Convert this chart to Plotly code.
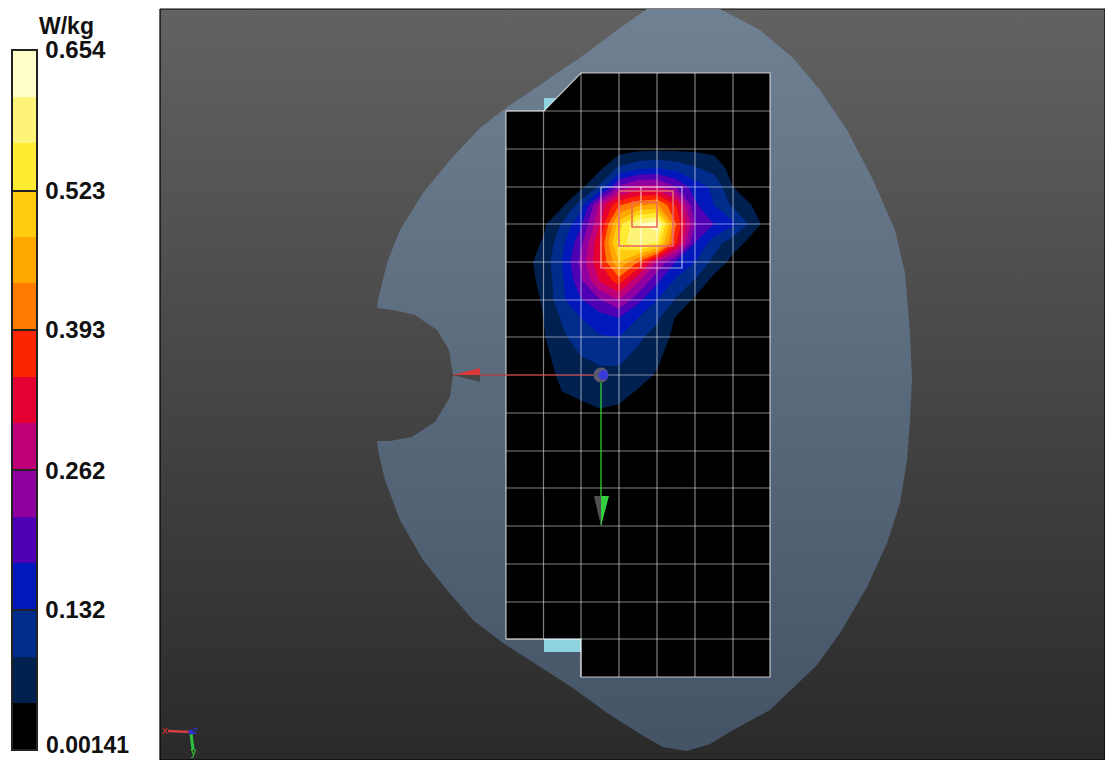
import plotly.graph_objects as go

# --- SAR scan values (W/kg) on the measurement grid ---
scan_x = [506, 543.5, 562, 581, 600, 619, 638, 657, 676, 695, 714, 733, 770]
scan_y = [111, 149, 168, 187, 205, 224, 243, 262, 281, 300, 318, 337, 375, 413, 451]
sar = [
    [.001, .001, .001, .001, .001, .001, .001, .001, .001, .001, .001, .001, .001],
    [.001, .001, .001, .004, .006, .023, .034, .036, .036, .036, .032, .008, .001],
    [.001, .001, .004, .010, .036, .097, .119, .132, .115, .093, .071, .028, .001],
    [.001, .004, .012, .034, .097, .228, .275, .275, .219, .154, .123, .045, .008],
    [.001, .014, .036, .110, .275, .389, .430, .445, .349, .184, .132, .080, .010],
    [.001, .036, .093, .167, .306, .502, .610, .640, .393, .219, .175, .141, .014],
    [.001, .049, .119, .206, .349, .545, .600, .560, .360, .175, .110, .062, .005],
    [.001, .062, .132, .232, .349, .480, .393, .262, .175, .132, .075, .032, .001],
    [.001, .056, .123, .210, .310, .371, .271, .184, .123, .084, .028, .006, .001],
    [.001, .049, .123, .171, .215, .262, .188, .132, .084, .036, .010, .003, .001],
    [.001, .045, .093, .132, .158, .175, .132, .097, .041, .010, .001, .001, .001],
    [.001, .041, .080, .110, .128, .132, .097, .071, .032, .006, .001, .001, .001],
    [.001, .019, .058, .067, .075, .075, .062, .041, .010, .001, .001, .001, .001],
    [.001, .001, .028, .034, .041, .036, .014, .001, .001, .001, .001, .001, .001],
    [.001, .001, .001, .001, .001, .001, .001, .001, .001, .001, .001, .001, .001],
]
sar_min = 0.00141
sar_max = 0.654
tick_vals = [0.132, 0.262, 0.393, 0.523, 0.654]
tick_text = ["\u200a0.132", "\u200a0.262", "\u200a0.393", "\u200a0.523", "\u200a0.654"]
min_label = "0.00141"
unit_label = "W/kg"
band_colors = ["#000000", "#002050", "#002C8C", "#0018BC", "#5000B4", "#9000A0", "#C00078", "#E40030",
               "#FA2400", "#FF7C00", "#FFA800", "#FFCC10", "#FFEC32", "#FFF47A", "#FFFFC8"]

# --- outlines ---
panel_x = [160, 1105, 1105, 160, 160]
panel_y = [9, 9, 760, 760, 9]
phantom_x = [377, 378, 387, 400, 423, 450, 480, 503, 540, 557, 577, 600, 620, 647, 720, 760, 793, 820, 847, 873, 895, 905, 910, 912,
             911, 910, 907, 900, 887, 867, 840, 817, 793, 770, 733, 710, 687, 663, 647, 610, 573, 537, 503, 473, 447, 423, 400, 385, 378,
             377, 390, 412, 435, 450, 453, 449, 437, 415, 393, 377]
phantom_y = [308, 300, 263, 230, 193, 160, 128, 110, 85, 73, 60, 43, 28, 9, 9, 30, 58, 90, 130, 180, 230, 273, 333, 380,
             400, 420, 460, 503, 543, 587, 633, 665, 688, 710, 730, 744, 751, 747, 738, 715, 688, 665, 643, 620, 590, 560, 520, 480, 450,
             441, 441, 437, 422, 397, 375, 350, 330, 315, 310, 308]
plate_x = [506, 544, 581, 770, 770, 581, 581, 506, 506]
plate_y = [111, 111, 73, 73, 677, 677, 639, 639, 111]
tab_top_x = [544, 556, 544, 544]
tab_top_y = [98, 98, 111, 98]
tab_bottom_x = [544, 581, 581, 544, 544]
tab_bottom_y = [639, 639, 652, 652, 639]

grid_col_x = [543.5, 581, 619, 657, 695, 733]
grid_col_top = [111, 73, 73, 73, 73, 73]
grid_col_bottom = [639, 677, 677, 677, 677, 677]
grid_row_y = [149, 187, 224, 262, 300, 337, 375, 413, 451, 488, 526, 564, 602, 639, 111]

zoom_boxes = [([601, 682, 682, 601, 601], [187, 187, 268, 268, 187], "rgba(255,255,255,0.65)", 1.2),
              ([641, 641], [187, 268], "rgba(255,255,255,0.7)", 1.2),
              ([619, 673, 673, 619, 619], [191, 191, 246, 246, 191], "#E86A70", 1.6),
              ([632, 657, 657, 632, 632], [202, 202, 227, 227, 202], "#E86A50", 1.6)]

fig = go.Figure()
fig.add_trace(go.Scatter(x=panel_x, y=panel_y, mode="lines", line=dict(color="black", width=1.2), fill="toself",
                         fillgradient=dict(type="vertical", colorscale=[[0, "#2A2A2A"], [1, "#626262"]])))
fig.add_trace(go.Scatter(x=phantom_x, y=phantom_y, mode="lines", line=dict(width=0), fill="toself",
                         fillgradient=dict(type="vertical", colorscale=[[0, "#445466"], [1, "#708194"]])))
for tx, ty in [(tab_top_x, tab_top_y), (tab_bottom_x, tab_bottom_y)]:
    fig.add_trace(go.Scatter(x=tx, y=ty, mode="lines", line=dict(width=0), fill="toself", fillcolor="#8FD3E0"))
fig.add_trace(go.Scatter(x=plate_x, y=plate_y, mode="lines", line=dict(width=0), fill="toself", fillcolor="black"))

# stepped colour scale
n = len(band_colors)
cscale = []
for i, c in enumerate(band_colors):
    cscale += [[i / n, c], [(i + 1) / n, c]]
step = (sar_max - sar_min) / n

fig.add_trace(go.Contour(
    x=scan_x, y=scan_y, z=sar, xaxis="x2", yaxis="y2",
    colorscale=cscale, zauto=False, zmin=sar_min, zmax=sar_max,
    contours=dict(coloring="fill", start=sar_min + step, end=sar_max - step, size=step, showlines=False),
    line=dict(width=0, smoothing=0),
    colorbar=dict(lenmode="pixels", len=700, thicknessmode="pixels", thickness=25, x=12 / 1105, xanchor="left",
                  y=10 / 760, yanchor="bottom", ypad=0, xpad=0, outlinecolor="#222222", outlinewidth=2,
                  tickmode="array", tickvals=tick_vals, ticktext=tick_text, ticks="inside", ticklen=25,
                  tickcolor="#222222", tickwidth=1.5,
                  tickfont=dict(family="Liberation Sans", size=24, color="#111111", weight="bold")),
))

GRID = "rgba(255,255,255,0.5)"
gx, gy = [], []
for x0, t, b in zip(grid_col_x, grid_col_top, grid_col_bottom):
    gx += [x0, x0, None]
    gy += [t, b, None]
for y0 in grid_row_y:
    gx += [506, 770, None]
    gy += [y0, y0, None]
fig.add_trace(go.Scatter(x=gx, y=gy, xaxis="x2", yaxis="y2", mode="lines", line=dict(color=GRID, width=1.2)))
fig.add_trace(go.Scatter(x=plate_x, y=plate_y, xaxis="x2", yaxis="y2", mode="lines",
                         line=dict(color="rgba(255,255,255,0.7)", width=1.2)))
for bx, by, col, w in zoom_boxes:
    fig.add_trace(go.Scatter(x=bx, y=by, xaxis="x2", yaxis="y2", mode="lines", line=dict(color=col, width=w)))

# probe axes
fig.add_trace(go.Scatter(x=[601, 453], y=[375, 375], xaxis="x2", yaxis="y2", mode="lines", line=dict(color="#D02828", width=1.2)))
fig.add_trace(go.Scatter(x=[601, 601], y=[375, 525], xaxis="x2", yaxis="y2", mode="lines", line=dict(color="#30E030", width=1.2)))
fig.add_trace(go.Scatter(x=[453, 480, 480, 453], y=[375, 368, 375, 375], xaxis="x2", yaxis="y2", mode="lines", line=dict(width=0), fill="toself", fillcolor="#D83838"))
fig.add_trace(go.Scatter(x=[453, 480, 480, 453], y=[375, 375, 382, 375], xaxis="x2", yaxis="y2", mode="lines", line=dict(width=0), fill="toself", fillcolor="#484848"))
fig.add_trace(go.Scatter(x=[601, 594, 601, 601], y=[526, 496, 496, 526], xaxis="x2", yaxis="y2", mode="lines", line=dict(width=0), fill="toself", fillcolor="#505050"))
fig.add_trace(go.Scatter(x=[601, 609, 601, 601], y=[526, 496, 496, 526], xaxis="x2", yaxis="y2", mode="lines", line=dict(width=0), fill="toself", fillcolor="#30D040"))
fig.add_trace(go.Scatter(x=[601], y=[375], xaxis="x2", yaxis="y2", mode="markers", marker=dict(size=15, color="#5A5A6A")))
fig.add_trace(go.Scatter(x=[603.5], y=[375], xaxis="x2", yaxis="y2", mode="markers", marker=dict(size=10, color="#3A3AD8")))

# small orientation triad
fig.add_trace(go.Scatter(x=[168, 190], y=[731, 732], xaxis="x2", yaxis="y2", mode="lines", line=dict(color="#D04040", width=2.5)))
fig.add_trace(go.Scatter(x=[191, 193], y=[733, 750], xaxis="x2", yaxis="y2", mode="lines", line=dict(color="#30C040", width=3)))
fig.add_trace(go.Scatter(x=[191], y=[732], xaxis="x2", yaxis="y2", mode="markers", marker=dict(size=5, color="#3030D0")))

annotations = [dict(x=66, y=26, xref="x", yref="y", text=f"<b>{unit_label}</b>", showarrow=False,
                    font=dict(family="Liberation Sans", size=23, color="#111111")),
               dict(x=45, y=745, xref="x", yref="y", xanchor="left", text=f"<b>{min_label}</b>", showarrow=False,
                    borderpad=0, font=dict(family="Liberation Sans", size=23, color="#111111")),
               dict(x=165, y=729, xref="x", yref="y", text="x", showarrow=False, font=dict(size=11, color="#E03030")),
               dict(x=195, y=730, xref="x", yref="y", text="z", showarrow=False, font=dict(size=10, color="#3030E0")),
               dict(x=194, y=751, xref="x", yref="y", text="y", showarrow=False, font=dict(size=10, color="#30E030"))]

ax = dict(range=[0, 1105], visible=False, domain=[0, 1], fixedrange=True)
ay = dict(range=[760, 0], visible=False, domain=[0, 1], fixedrange=True)
fig.update_layout(
    width=1105, height=760, margin=dict(l=0, r=0, t=0, b=0), showlegend=False,
    paper_bgcolor="white", plot_bgcolor="white",
    xaxis=ax, yaxis=ay,
    xaxis2=dict(ax, overlaying="x"), yaxis2=dict(ay, overlaying="y"),
    annotations=annotations,
)
fig.write_html("out.html", config={"displayModeBar": False},
               post_script="document.body.style.margin='0';document.body.style.overflow='hidden';")
